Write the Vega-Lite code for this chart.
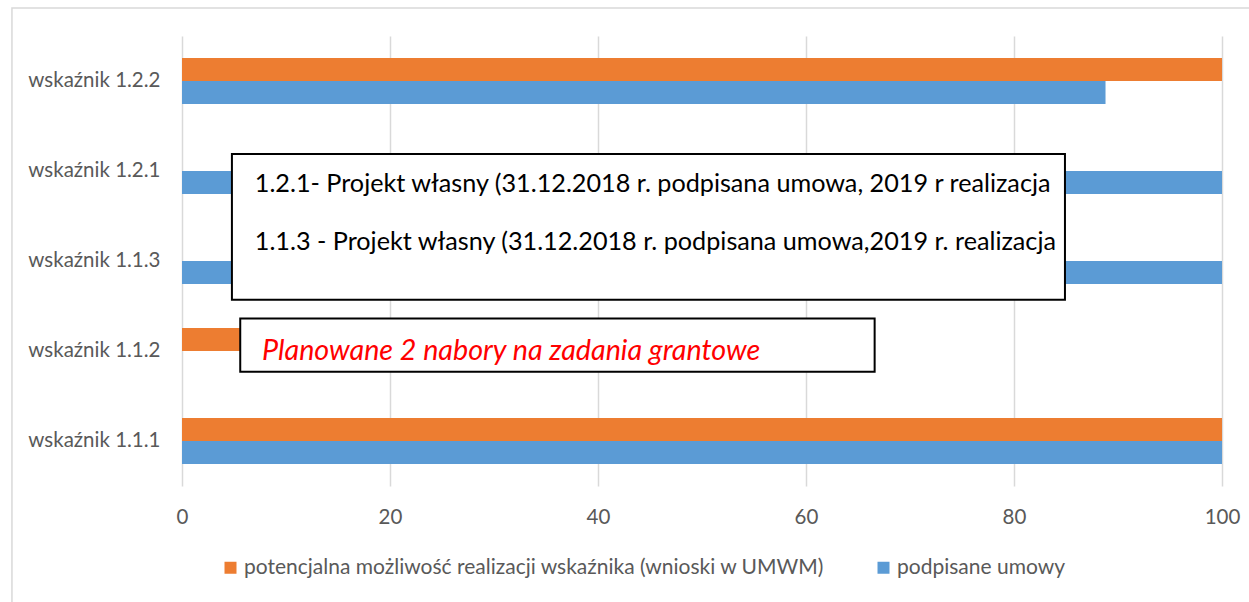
{
  "$schema": "https://vega.github.io/schema/vega-lite/v6.json",
  "width": 1040,
  "height": 450,
  "autosize": {"type": "none"},
  "padding": {"left": 182, "top": 36, "right": 27, "bottom": 116},
  "background": "white",
  "config": {
    "view": {"stroke": null},
    "font": "Lato",
    "axis": {"labelFont": "Lato", "labelColor": "#595959", "labelFontSize": 20.5, "title": null, "domain": false, "ticks": false, "gridColor": "#d9d9d9", "gridWidth": 1.5},
    "axisX": {"grid": true, "labelPadding": 21, "labelFlush": false},
    "axisY": {"grid": false, "labelPadding": 22},
    "legend": {"labelFont": "Lato", "labelFontSize": 21, "labelColor": "#595959"}
  },
  "datasets": {
    "bars": [
      {"wskaznik": "wskaźnik 1.2.2", "seria": "potencjalna możliwość realizacji wskaźnika (wnioski w UMWM)", "wartosc": 100},
      {"wskaznik": "wskaźnik 1.2.2", "seria": "podpisane umowy", "wartosc": 88.8},
      {"wskaznik": "wskaźnik 1.2.1", "seria": "podpisane umowy", "wartosc": 100},
      {"wskaznik": "wskaźnik 1.1.3", "seria": "podpisane umowy", "wartosc": 100},
      {"wskaznik": "wskaźnik 1.1.2", "seria": "potencjalna możliwość realizacji wskaźnika (wnioski w UMWM)", "wartosc": 50},
      {"wskaznik": "wskaźnik 1.1.1", "seria": "potencjalna możliwość realizacji wskaźnika (wnioski w UMWM)", "wartosc": 100},
      {"wskaznik": "wskaźnik 1.1.1", "seria": "podpisane umowy", "wartosc": 100}
    ],
    "frame": [{"x1": -16.35, "x2": 105, "y1": -0.311, "y2": 7}],
    "boxes": [
      {"x1": 4.8, "x2": 84.9, "y1": 1.31, "y2": 2.93},
      {"x1": 5.6, "x2": 66.6, "y1": 3.14, "y2": 3.73}
    ],
    "notes": [
      {"x": 7.0, "y": 1.64, "tekst": "1.2.1- Projekt własny (31.12.2018 r. podpisana umowa, 2019 r realizacja", "rodzaj": "czarny"},
      {"x": 7.0, "y": 2.29, "tekst": "1.1.3 - Projekt własny (31.12.2018 r. podpisana umowa,2019 r. realizacja", "rodzaj": "czarny"},
      {"x": 7.7, "y": 3.5, "tekst": "Planowane 2 nabory na zadania grantowe", "rodzaj": "czerwony"}
    ]
  },
  "layer": [
    {
      "data": {"name": "bars"},
      "mark": {"type": "bar"},
      "encoding": {
        "y": {"field": "wskaznik", "type": "nominal", "sort": ["wskaźnik 1.2.2", "wskaźnik 1.2.1", "wskaźnik 1.1.3", "wskaźnik 1.1.2", "wskaźnik 1.1.1"], "scale": {"paddingInner": 0.49, "paddingOuter": 0.245}},
        "yOffset": {"field": "seria", "type": "nominal", "scale": {"domain": ["potencjalna możliwość realizacji wskaźnika (wnioski w UMWM)", "podpisane umowy"], "paddingInner": 0, "paddingOuter": 0}},
        "x": {"field": "wartosc", "type": "quantitative", "scale": {"domain": [0, 100], "nice": false}, "axis": {"values": [0, 20, 40, 60, 80, 100]}},
        "color": {"field": "seria", "type": "nominal", "scale": {"domain": ["potencjalna możliwość realizacji wskaźnika (wnioski w UMWM)", "podpisane umowy"], "range": ["#ED7D31", "#5B9BD5"]},
          "legend": {"title": null, "orient": "none", "legendX": 38, "legendY": 521, "direction": "horizontal", "symbolType": "square", "symbolSize": 144, "symbolStrokeWidth": 0, "columnPadding": 48, "labelOffset": 3, "labelLimit": 800}}
      }
    },
    {
      "layer": [
        {
          "data": {"name": "frame"},
          "mark": {"type": "rect", "fill": null, "stroke": "#d9d9d9", "strokeWidth": 1.5},
          "encoding": {
            "x": {"field": "x1", "type": "quantitative", "scale": {"domain": [0, 100], "nice": false}},
            "x2": {"field": "x2"},
            "y": {"field": "y1", "type": "quantitative", "scale": {"domain": [0, 5], "reverse": true, "nice": false, "zero": false}, "axis": null},
            "y2": {"field": "y2"}
          }
        },
        {
          "data": {"name": "boxes"},
          "mark": {"type": "rect", "fill": "white", "stroke": "black", "strokeWidth": 2},
          "encoding": {
            "x": {"field": "x1", "type": "quantitative", "scale": {"domain": [0, 100], "nice": false}},
            "x2": {"field": "x2"},
            "y": {"field": "y1", "type": "quantitative", "scale": {"domain": [0, 5], "reverse": true, "nice": false, "zero": false}, "axis": null},
            "y2": {"field": "y2"}
          }
        },
        {
          "data": {"name": "notes"},
          "transform": [{"filter": "datum.rodzaj === 'czarny'"}],
          "mark": {"type": "text", "align": "left", "baseline": "middle", "font": "Lato", "fontSize": 25.2, "color": "black"},
          "encoding": {
            "x": {"field": "x", "type": "quantitative", "scale": {"domain": [0, 100], "nice": false}},
            "y": {"field": "y", "type": "quantitative", "scale": {"domain": [0, 5], "reverse": true, "nice": false, "zero": false}, "axis": null},
            "text": {"field": "tekst"}
          }
        },
        {
          "data": {"name": "notes"},
          "transform": [{"filter": "datum.rodzaj === 'czerwony'"}],
          "mark": {"type": "text", "align": "left", "baseline": "middle", "font": "Lato", "fontSize": 28.7, "fontStyle": "italic", "color": "#FF0000"},
          "encoding": {
            "x": {"field": "x", "type": "quantitative", "scale": {"domain": [0, 100], "nice": false}},
            "y": {"field": "y", "type": "quantitative", "scale": {"domain": [0, 5], "reverse": true, "nice": false, "zero": false}, "axis": null},
            "text": {"field": "tekst"}
          }
        }
      ]
    }
  ],
  "resolve": {"scale": {"y": "independent"}}
}
